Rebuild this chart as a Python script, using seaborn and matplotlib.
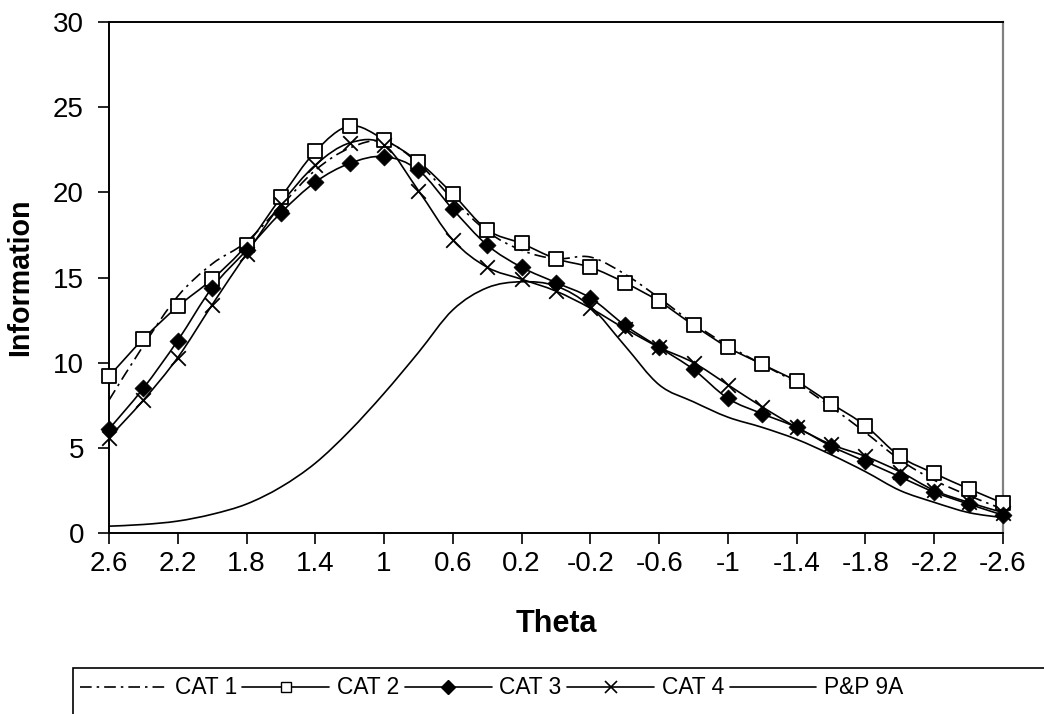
import numpy as np
import matplotlib
matplotlib.use("Agg")
import matplotlib.pyplot as plt
import seaborn as sns
from matplotlib.path import Path
from matplotlib.patches import PathPatch, Rectangle
from matplotlib.lines import Line2D

# values
theta = [2.6, 2.4, 2.2, 2.0, 1.8, 1.6, 1.4, 1.2, 1.0, 0.8, 0.6, 0.4, 0.2, 0.0,
         -0.2, -0.4, -0.6, -0.8, -1.0, -1.2, -1.4, -1.6, -1.8, -2.0, -2.2, -2.4, -2.6]
cat1 = [7.8, 11.0, 13.9, 15.8, 17.1, 19.2, 21.3, 22.6, 23.0, 21.7, 19.6, 17.7, 16.6, 16.1,
        16.2, 15.2, 13.8, 12.3, 11.0, 9.9, 8.8, 7.4, 5.9, 4.3, 3.1, 2.2, 1.4]
cat2 = [9.2, 11.4, 13.3, 14.9, 16.9, 19.7, 22.4, 23.9, 23.1, 21.8, 19.9, 17.8, 17.0, 16.1,
        15.6, 14.7, 13.6, 12.2, 10.9, 9.9, 8.9, 7.6, 6.3, 4.5, 3.5, 2.6, 1.75]
cat3 = [6.1, 8.5, 11.3, 14.4, 16.6, 18.8, 20.6, 21.7, 22.1, 21.3, 19.0, 16.9, 15.6, 14.7,
        13.8, 12.2, 10.9, 9.6, 7.9, 7.0, 6.2, 5.1, 4.2, 3.3, 2.4, 1.7, 1.05]
cat4 = [5.6, 7.8, 10.3, 13.4, 16.4, 19.3, 21.6, 22.9, 22.8, 20.1, 17.2, 15.6, 14.9, 14.2,
        13.2, 12.0, 10.9, 10.0, 8.7, 7.4, 6.2, 5.2, 4.5, 3.6, 2.5, 1.8, 1.2]
pp9a = [0.4, 0.5, 0.7, 1.1, 1.7, 2.7, 4.1, 6.0, 8.2, 10.6, 13.1, 14.4, 14.75, 14.5,
        13.3, 11.0, 8.7, 7.7, 6.8, 6.2, 5.5, 4.6, 3.6, 2.5, 1.8, 1.2, 0.9]

xtick_vals = [2.6, 2.2, 1.8, 1.4, 1.0, 0.6, 0.2, -0.2, -0.6, -1.0, -1.4, -1.8, -2.2, -2.6]
xtick_labels = ["2.6", "2.2", "1.8", "1.4", "1", "0.6", "0.2", "-0.2", "-0.6", "-1",
                "-1.4", "-1.8", "-2.2", "-2.6"]
series_names = ["CAT 1", "CAT 2", "CAT 3", "CAT 4", "P&P 9A"]

DASHDOT = (0, (7, 3, 1.5, 3))


def smooth_path(x, y):
    """Bezier path through the points, like a spreadsheet's smoothed line."""
    pts = np.column_stack([x, y]).astype(float)
    ext = np.vstack([pts[0], pts, pts[-1]])
    verts = [pts[0]]
    codes = [Path.MOVETO]
    for i in range(len(pts) - 1):
        p0, p1, p2, p3 = ext[i], ext[i + 1], ext[i + 2], ext[i + 3]
        verts += [p1 + (p2 - p0) / 6, p2 - (p3 - p1) / 6, p2]
        codes += [Path.CURVE4] * 3
    return Path(verts, codes)


sns.set_style("ticks")
plt.rcParams["font.family"] = ["Liberation Sans", "DejaVu Sans"]
plt.rcParams["text.color"] = "black"
plt.rcParams["axes.labelcolor"] = "black"
plt.rcParams["xtick.color"] = "black"
plt.rcParams["ytick.color"] = "black"

fig = plt.figure(figsize=(10.44, 7.14), dpi=100)
ax = fig.add_axes([109 / 1044, (714 - 533) / 714, (1003 - 109) / 1044, (533 - 22) / 714])

lw = 1.2
for vals, ls in [(cat1, DASHDOT), (cat2, "-"), (cat3, "-"), (cat4, "-"), (pp9a, "-")]:
    ax.add_patch(PathPatch(smooth_path(theta, vals), fill=False, edgecolor="black",
                           linewidth=lw, linestyle=ls, clip_on=False, zorder=2))

sns.scatterplot(x=theta, y=cat2, marker="s", s=95, facecolor="white", edgecolor="black",
                linewidth=1.3, zorder=4, clip_on=False, ax=ax)
sns.scatterplot(x=theta, y=cat3, marker="D", s=75, color="black", edgecolor="black",
                linewidth=0.5, zorder=4, clip_on=False, ax=ax)
sns.scatterplot(x=theta, y=cat4, marker="x", s=110, color="black", linewidth=1.3,
                zorder=4, clip_on=False, ax=ax)

ax.set_xlim(2.6, -2.6)
ax.set_ylim(0, 30)
ax.set_yticks(range(0, 31, 5))
ax.set_xticks(xtick_vals)
ax.set_xticklabels(xtick_labels)
ax.tick_params(axis="both", labelsize=20, length=8, width=1.2, direction="out")
ax.tick_params(axis="y", pad=10)
ax.tick_params(axis="x", pad=5)

for side in ["left", "bottom", "top"]:
    ax.spines[side].set_color("black")
    ax.spines[side].set_linewidth(1.4)
ax.spines["right"].set_color("#808080")
ax.spines["right"].set_linewidth(1.6)

ax.set_xlabel("Theta", fontsize=22, fontweight="bold")
ax.set_ylabel("Information", fontsize=20.6, fontweight="bold")
ax.xaxis.set_label_coords(0.5, -(609 - 533) / 511)
ax.yaxis.set_label_coords(-(109 - 34) / 894, 0.5)

handles = [
    Line2D([], [], color="black", lw=lw, linestyle=DASHDOT),
    Line2D([], [], color="black", lw=lw, marker="s", markersize=7,
           markerfacecolor="white", markeredgecolor="black"),
    Line2D([], [], color="black", lw=lw, marker="D", markersize=7),
    Line2D([], [], color="black", lw=lw, marker="x", markersize=8, markeredgewidth=1.2),
    Line2D([], [], color="black", lw=lw),
]
fig.legend(handles, series_names, loc="center left",
           bbox_to_anchor=(80 / 1044, (714 - 688) / 714), ncol=5, frameon=False,
           fontsize=16.4, handlelength=3.8, handletextpad=0.35, columnspacing=0.25,
           borderpad=0, borderaxespad=0)
fig.patches.append(Rectangle((73 / 1044, -0.05), 1.0, (714 - 668) / 714 + 0.05,
                             transform=fig.transFigure, fill=False,
                             edgecolor="black", linewidth=1.2))

fig.savefig("out.png", dpi=100)
